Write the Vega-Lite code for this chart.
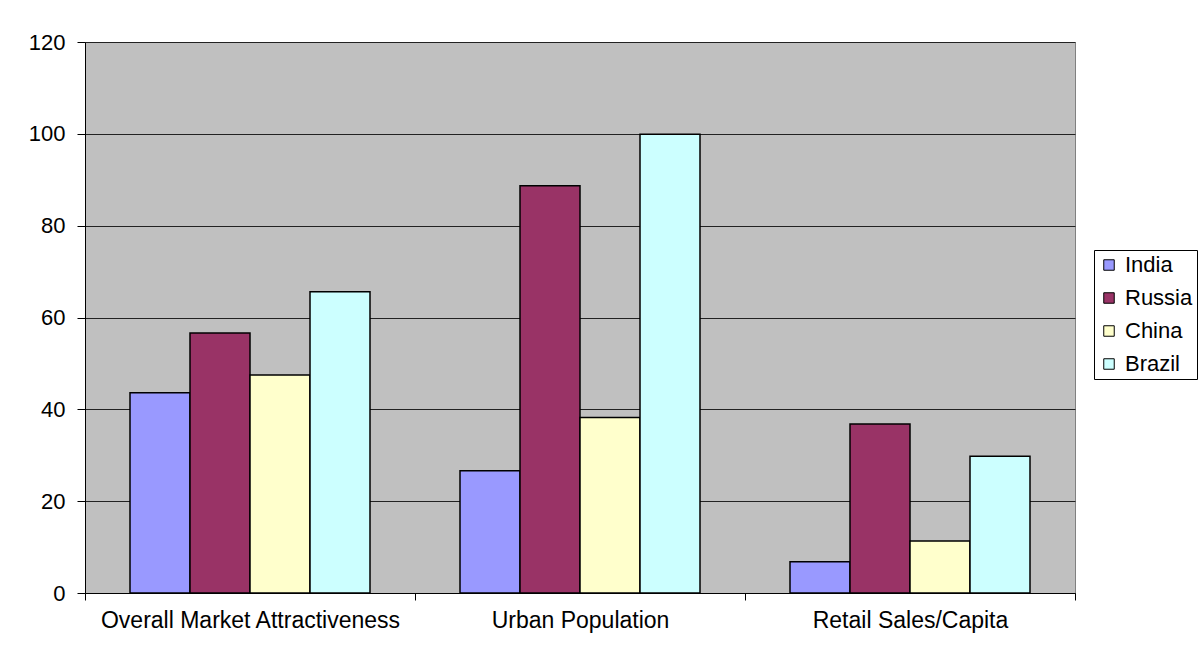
{
  "$schema": "https://vega.github.io/schema/vega-lite/v6.json",
  "autosize": {"type": "none"},
  "padding": {"left": 85, "top": 42, "right": 129, "bottom": 63},
  "width": 990,
  "height": 551,
  "background": "#ffffff",
  "data": {
    "values": [
      {"category": "Overall Market Attractiveness", "country": "India", "value": 43.6},
      {"category": "Overall Market Attractiveness", "country": "Russia", "value": 56.6},
      {"category": "Overall Market Attractiveness", "country": "China", "value": 47.5},
      {"category": "Overall Market Attractiveness", "country": "Brazil", "value": 65.6},
      {"category": "Urban Population", "country": "India", "value": 26.6},
      {"category": "Urban Population", "country": "Russia", "value": 88.7},
      {"category": "Urban Population", "country": "China", "value": 38.2},
      {"category": "Urban Population", "country": "Brazil", "value": 99.9},
      {"category": "Retail Sales/Capita", "country": "India", "value": 6.8},
      {"category": "Retail Sales/Capita", "country": "Russia", "value": 36.8},
      {"category": "Retail Sales/Capita", "country": "China", "value": 11.3},
      {"category": "Retail Sales/Capita", "country": "Brazil", "value": 29.8}
    ]
  },
  "mark": {"type": "bar", "stroke": "#000000", "strokeWidth": 1.5, "fillOpacity": 1},
  "encoding": {
    "x": {
      "field": "category",
      "type": "nominal",
      "sort": null,
      "scale": {"paddingInner": 0, "paddingOuter": 0},
      "axis": {
        "title": null,
        "labelAngle": 0,
        "labelLimit": 0,
        "tickBand": "extent",
        "tickSize": 7,
        "tickColor": "#000000",
        "domainColor": "#000000",
        "labelFont": "Liberation Sans",
        "labelFontSize": 23,
        "labelColor": "#000000",
        "labelPadding": 9,
        "grid": false
      }
    },
    "xOffset": {
      "field": "country",
      "type": "nominal",
      "sort": ["India", "Russia", "China", "Brazil"],
      "scale": {"paddingInner": 0, "paddingOuter": 0.75}
    },
    "y": {
      "field": "value",
      "type": "quantitative",
      "scale": {"domain": [0, 120], "nice": false},
      "axis": {
        "title": null,
        "values": [0, 20, 40, 60, 80, 100, 120],
        "tickSize": 8,
        "tickColor": "#000000",
        "domainColor": "#000000",
        "grid": true,
        "gridColor": "#222222",
        "gridWidth": 1,
        "labelFont": "Liberation Sans",
        "labelFontSize": 22,
        "labelColor": "#000000",
        "labelPadding": 12
      }
    },
    "fill": {
      "field": "country",
      "type": "nominal",
      "sort": ["India", "Russia", "China", "Brazil"],
      "scale": {
        "domain": ["India", "Russia", "China", "Brazil"],
        "range": ["#9999FF", "#993366", "#FFFFCC", "#CCFFFF"]
      },
      "legend": {
        "title": null,
        "orient": "none",
        "legendX": 1009,
        "legendY": 208,
        "symbolType": "square",
        "symbolSize": 110,
        "symbolStrokeColor": "#000000",
        "symbolStrokeWidth": 1,
        "symbolFillOpacity": 1,
        "labelFont": "Liberation Sans",
        "labelFontSize": 22,
        "labelColor": "#000000",
        "labelOffset": 5,
        "rowPadding": 11,
        "padding": 4,
        "strokeColor": "#000000",
        "fillColor": "#ffffff"
      }
    }
  },
  "config": {
    "view": {"fill": "#C0C0C0", "stroke": "#808080", "strokeWidth": 1}
  }
}
